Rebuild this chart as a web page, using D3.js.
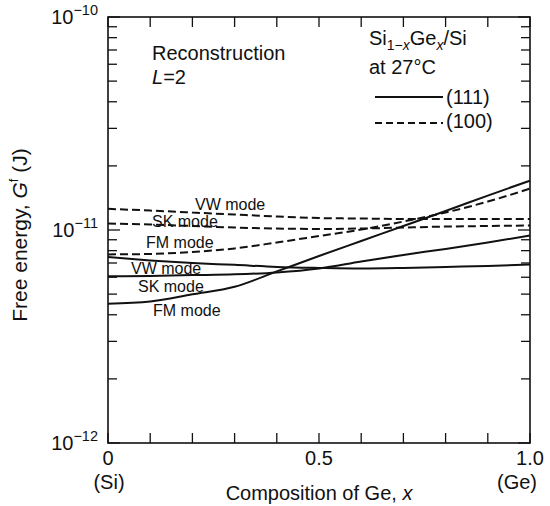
<!DOCTYPE html>
<html>
<head>
<meta charset="utf-8">
<script src="https://cdn.jsdelivr.net/npm/d3@7"></script>
<style>
  html, body { margin: 0; padding: 0; background: #fff; }
  svg { display: block; font-family: "Liberation Sans", Arial, Helvetica, sans-serif; }
</style>
</head>
<body>
<svg id="chart" width="550" height="506"></svg>
<script>
// Ge composition x (0 = Si, 1 = Ge)
const composition = [0, 0.1, 0.2, 0.3, 0.4, 0.5, 0.6, 0.7, 0.8, 0.9, 1.0];

// Free energy G^f (J), (111) surface
const fm111 = [4.51e-12, 4.62e-12, 4.99e-12, 5.41e-12, 6.39e-12, 7.55e-12, 8.88e-12, 1.044e-11, 1.228e-11, 1.451e-11, 1.705e-11];
const sk111 = [6.06e-12, 6.09e-12, 6.14e-12, 6.19e-12, 6.32e-12, 6.60e-12, 7.12e-12, 7.64e-12, 8.15e-12, 8.74e-12, 9.42e-12];
const vw111 = [7.46e-12, 7.20e-12, 7.00e-12, 6.86e-12, 6.71e-12, 6.64e-12, 6.60e-12, 6.64e-12, 6.71e-12, 6.78e-12, 6.89e-12];

// Free energy G^f (J), (100) surface
const fm100 = [7.68e-12, 7.72e-12, 7.89e-12, 8.19e-12, 8.74e-12, 9.37e-12, 1.005e-11, 1.096e-11, 1.208e-11, 1.36e-11, 1.564e-11];
const sk100 = [1.073e-11, 1.061e-11, 1.044e-11, 1.027e-11, 1.016e-11, 1.011e-11, 1.016e-11, 1.027e-11, 1.038e-11, 1.044e-11, 1.050e-11];
const vw100 = [1.257e-11, 1.234e-11, 1.208e-11, 1.182e-11, 1.157e-11, 1.138e-11, 1.132e-11, 1.126e-11, 1.126e-11, 1.126e-11, 1.126e-11];

// Axis ticks
const xTickValues = [0, 0.1, 0.2, 0.3, 0.4, 0.5, 0.6, 0.7, 0.8, 0.9, 1.0];
const xTickLabels = [{ v: 0, t: "0", sub: "(Si)" }, { v: 0.5, t: "0.5", sub: "" }, { v: 1.0, t: "1.0", sub: "(Ge)" }];
const yDecades = [-12, -11, -10];

const svg = d3.select("#chart");
const plotL = 108, plotR = 530, plotT = 17, plotB = 443;

const x = d3.scaleLinear().domain([0, 1]).range([plotL, plotR]);
const y = d3.scaleLog().domain([1e-12, 1e-10]).range([plotB, plotT]);

const ink = "#111";

// Minor / major log ticks
const yTicks = [];
yDecades.slice(0, -1).forEach(e => {
  for (let k = 1; k <= 9; k++) yTicks.push({ v: k * Math.pow(10, e), major: k === 1 });
});
yTicks.push({ v: 1e-10, major: true });

const g = svg.append("g");

// left and right tick marks (inward)
g.selectAll("line.yl").data(yTicks).join("line")
  .attr("x1", plotL).attr("x2", d => plotL + (d.major ? 12 : 9))
  .attr("y1", d => y(d.v)).attr("y2", d => y(d.v))
  .attr("stroke", ink).attr("stroke-width", 1.3);
g.selectAll("line.yr").data(yTicks).join("line")
  .attr("x1", plotR).attr("x2", d => plotR - (d.major ? 12 : 9))
  .attr("y1", d => y(d.v)).attr("y2", d => y(d.v))
  .attr("stroke", ink).attr("stroke-width", 1.3);

// bottom and top ticks (inward)
g.selectAll("line.xb").data(xTickValues).join("line")
  .attr("x1", d => x(d)).attr("x2", d => x(d))
  .attr("y1", plotB).attr("y2", plotB - 10)
  .attr("stroke", ink).attr("stroke-width", 1.3);
g.selectAll("line.xt").data(xTickValues).join("line")
  .attr("x1", d => x(d)).attr("x2", d => x(d))
  .attr("y1", plotT).attr("y2", plotT + 10)
  .attr("stroke", ink).attr("stroke-width", 1.3);

// frame
g.append("rect")
  .attr("x", plotL).attr("y", plotT)
  .attr("width", plotR - plotL).attr("height", plotB - plotT)
  .attr("fill", "none").attr("stroke", ink).attr("stroke-width", 1.6);

// y tick labels 10^e
const yLab = svg.append("g").attr("fill", ink);
yDecades.forEach(e => {
  const t = yLab.append("text")
    .attr("x", 98).attr("y", y(Math.pow(10, e)) + 7)
    .attr("text-anchor", "end").attr("font-size", 20);
  t.append("tspan").text("10");
  t.append("tspan").attr("font-size", 14.5).attr("dy", -9).text("\u2212" + Math.abs(e));
});

// x tick labels
xTickLabels.forEach(d => {
  svg.append("text").attr("x", x(d.v)).attr("y", 465)
    .attr("text-anchor", "middle").attr("font-size", 20).attr("fill", ink).text(d.t);
  if (d.sub) {
    svg.append("text").attr("x", d.v === 1 ? x(d.v) - 13 : x(d.v) + 1).attr("y", 489)
      .attr("text-anchor", "middle").attr("font-size", 20).attr("fill", ink).text(d.sub);
  }
});

// axis titles
const xt = svg.append("text").attr("x", 319).attr("y", 500)
  .attr("text-anchor", "middle").attr("font-size", 20).attr("fill", ink);
xt.append("tspan").text("Composition of Ge, ");
xt.append("tspan").attr("font-style", "italic").text("x");

const yt = svg.append("text")
  .attr("transform", "translate(27,235) rotate(-90)")
  .attr("text-anchor", "middle").attr("font-size", 21).attr("fill", ink);
yt.append("tspan").text("Free energy, ");
yt.append("tspan").attr("font-style", "italic").text("G");
yt.append("tspan").attr("font-size", 13).attr("dy", -9).text("f");
yt.append("tspan").attr("dy", 9).text(" (J)");

// curves
const line = d3.line()
  .x((d, i) => x(composition[i]))
  .y(d => y(d))
  .curve(d3.curveMonotoneX);

const series = [
  { v: fm111, dash: null }, { v: sk111, dash: null }, { v: vw111, dash: null },
  { v: fm100, dash: "8,4" }, { v: sk100, dash: "8,4" }, { v: vw100, dash: "8,4" }
];
svg.append("g").selectAll("path").data(series).join("path")
  .attr("d", d => line(d.v))
  .attr("fill", "none").attr("stroke", ink).attr("stroke-width", 2)
  .attr("stroke-dasharray", d => d.dash);

// mode labels
const modeLabels = [
  { t: "VW mode", x: 195, y: 210 },
  { t: "SK mode", x: 152, y: 227 },
  { t: "FM mode", x: 146, y: 248 },
  { t: "VW mode", x: 131, y: 274 },
  { t: "SK mode", x: 138, y: 292 },
  { t: "FM mode", x: 153, y: 316 }
];
svg.append("g").selectAll("text").data(modeLabels).join("text")
  .attr("x", d => d.x).attr("y", d => d.y)
  .attr("font-size", 16).attr("fill", ink).text(d => d.t);

// annotations
const ann = svg.append("g").attr("fill", ink).attr("font-size", 20);
ann.append("text").attr("x", 152).attr("y", 60).text("Reconstruction");
const l2 = ann.append("text").attr("x", 152).attr("y", 84);
l2.append("tspan").attr("font-style", "italic").text("L");
l2.append("tspan").text("=2");

const si = ann.append("text").attr("x", 369).attr("y", 45);
si.append("tspan").text("Si");
si.append("tspan").attr("font-size", 14).attr("dy", 5).text("1\u2212");
si.append("tspan").attr("font-size", 14).attr("font-style", "italic").text("x");
si.append("tspan").attr("dy", -5).text("Ge");
si.append("tspan").attr("font-size", 14).attr("dy", 5).attr("font-style", "italic").text("x");
si.append("tspan").attr("dy", -5).text("/Si");
ann.append("text").attr("x", 369).attr("y", 74).text("at 27\u00B0C");

// legend
const legend = [
  { t: "(111)", dash: null, ly: 97, ty: 104 },
  { t: "(100)", dash: "7,4", ly: 123, ty: 128 }
];
legend.forEach(d => {
  svg.append("line").attr("x1", 375).attr("x2", 443).attr("y1", d.ly).attr("y2", d.ly)
    .attr("stroke", ink).attr("stroke-width", 2).attr("stroke-dasharray", d.dash);
  ann.append("text").attr("x", 446).attr("y", d.ty).text(d.t);
});
</script>
</body>
</html>
